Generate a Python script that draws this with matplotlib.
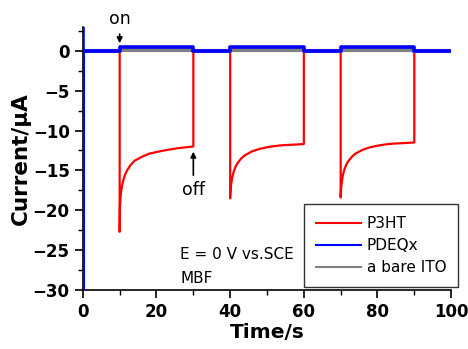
import matplotlib.pyplot as plt
import numpy as np

# light on/off times (s)
t_on = [10, 40, 70]
t_off = [30, 60, 90]

# P3HT photocurrent decay (time after light-on, current in uA)
dt_decay = [0.0, 0.08, 0.3, 0.6, 1.0, 1.5, 2.0, 3.0, 4.0, 6.0, 8.0, 10.0, 12.0, 14.0, 16.0, 18.0, 20.0]
p3ht_1 = [-22.7, -19.5, -18.0, -17.0, -16.2, -15.5, -15.0, -14.3, -13.8, -13.3, -12.9, -12.7, -12.5, -12.35, -12.2, -12.1, -12.0]
p3ht_2 = [-18.5, -17.6, -16.6, -15.8, -15.1, -14.5, -14.1, -13.5, -13.1, -12.6, -12.3, -12.1, -11.95, -11.85, -11.8, -11.75, -11.7]
p3ht_3 = [-18.4, -17.5, -16.5, -15.6, -14.9, -14.3, -13.9, -13.3, -12.9, -12.4, -12.1, -11.9, -11.75, -11.65, -11.6, -11.55, -11.5]

pdeqx_on = 0.45
ito_on = 0.15

t_end = 100


def square(level):
    t = [0]
    y = [0]
    for a, b in zip(t_on, t_off):
        t += [a, a, b, b]
        y += [0, level, level, 0]
    t.append(t_end)
    y.append(0)
    return t, y


# P3HT trace
t_p = [0]
y_p = [0]
for a, b, seg in zip(t_on, t_off, [p3ht_1, p3ht_2, p3ht_3]):
    t_p += [a]
    y_p += [0]
    t_p += [a + d for d in dt_decay]
    y_p += seg
    t_p += [b]
    y_p += [0]
t_p.append(t_end)
y_p.append(0)

t_b, y_b = square(pdeqx_on)
t_b = [0, 0] + t_b
y_b = [3, -31] + y_b
t_g, y_g = square(ito_on)

plt.rcParams['font.family'] = 'DejaVu Sans'

fig = plt.figure(figsize=(4.68, 3.49), dpi=100)
ax = fig.add_axes([0.177, 0.169, 0.787, 0.754])

ax.plot(t_p, y_p, color='#ff0000', lw=1.6, label='P3HT')
ax.plot(t_g, y_g, color='#808080', lw=3, label='a bare ITO', zorder=3)
ax.plot(t_b, y_b, color='#0000ff', lw=2.6, label='PDEQx', zorder=4)

ax.set_xlim(0, 100)
ax.set_ylim(-30, 3)
ax.set_xticks([0, 20, 40, 60, 80, 100])
ax.set_xticks([10, 30, 50, 70, 90], minor=True)
ax.set_yticks([0, -5, -10, -15, -20, -25, -30])
ax.set_yticks(np.arange(-27.5, 3, 5), minor=True)
ax.spines['top'].set_visible(False)
ax.spines['right'].set_visible(False)
ax.spines['left'].set_linewidth(1.2)
ax.spines['bottom'].set_linewidth(1.2)
ax.tick_params(direction='out', length=6, width=1.2, labelsize=12)
ax.tick_params(which='minor', direction='out', length=3.5, width=1)
for lab in ax.get_xticklabels() + ax.get_yticklabels():
    lab.set_fontweight('bold')

ax.set_xlabel('Time/s', fontsize=14.5, fontweight='bold', labelpad=1)
ax.set_ylabel('Current/\u03bcA', fontsize=15.5, fontweight='bold', labelpad=1)

ax.annotate('on', xy=(10, 0.6), xytext=(10, 2.8), ha='center', va='bottom', fontsize=12.5,
            arrowprops=dict(arrowstyle='-|>', color='k', lw=1.2, mutation_scale=8),
            annotation_clip=False)
ax.annotate('off', xy=(30, -12.3), xytext=(30, -16.3), ha='center', va='top', fontsize=12.5,
            arrowprops=dict(arrowstyle='-|>', color='k', lw=1.2, mutation_scale=8))

ax.text(26.5, -25.5, 'E = 0 V vs.SCE', fontsize=11, va='center')
ax.text(26.5, -28.6, 'MBF', fontsize=11, va='center')

handles, labels = ax.get_legend_handles_labels()
order = [0, 2, 1]
leg = fig.legend([handles[i] for i in order], [labels[i] for i in order],
                 loc='upper left', bbox_to_anchor=(304 / 468, 1 - 204 / 349),
                 borderaxespad=0, fontsize=11,
                 frameon=True, fancybox=False, edgecolor='k', handlelength=2.9,
                 handletextpad=0.4, borderpad=0.8, labelspacing=0.45)
leg.get_frame().set_linewidth(1)
for h in leg.get_lines():
    h.set_linewidth(1.5)

fig.savefig('out.png', dpi=100)
